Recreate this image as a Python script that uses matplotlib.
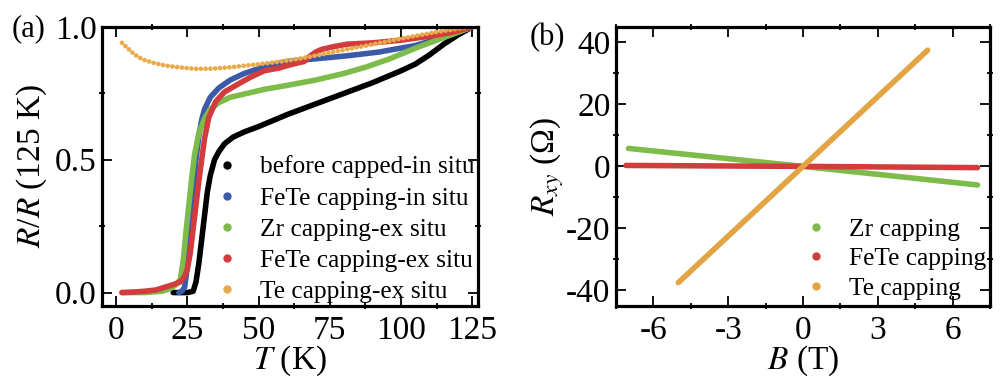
import numpy as np
import matplotlib
matplotlib.use("Agg")
import matplotlib.pyplot as plt
from matplotlib.ticker import MultipleLocator, FormatStrFormatter

plt.rcParams['font.family'] = ['Liberation Serif', 'DejaVu Serif']
plt.rcParams['mathtext.fontset'] = 'stix'
plt.rcParams['axes.unicode_minus'] = False

# ---- panel (a): R/R(125 K) vs T ----
T_black = [20, 25, 27, 28, 29, 30, 31, 32, 33, 34.5, 36, 38, 41, 45, 50, 60, 70, 80, 90, 100, 105, 110, 115,
           120, 125]
R_black = [0, 0, 0.005, 0.04, 0.11, 0.2, 0.29, 0.38, 0.44, 0.5, 0.53, 0.56, 0.585, 0.605, 0.625, 0.67, 0.71,
           0.75, 0.79, 0.835, 0.86, 0.895, 0.935, 0.97, 1.0]

T_blue = [22, 23, 24, 25, 26, 27, 28, 29, 30, 31, 33, 36, 40, 45, 52, 60, 70, 80, 92, 105, 116, 125]
R_blue = [0, 0.005, 0.02, 0.1, 0.24, 0.38, 0.5, 0.59, 0.65, 0.69, 0.735, 0.77, 0.8, 0.825, 0.85, 0.87, 0.88,
          0.89, 0.905, 0.93, 0.965, 1.0]

T_green = [2, 10, 16, 19, 21, 22.5, 23.5, 24.5, 25.5, 26.5, 27.5, 29, 31, 33, 36, 40, 46, 52, 60, 70, 80, 88,
           96, 105, 115, 125]
R_green = [0, 0, 0.005, 0.015, 0.03, 0.05, 0.12, 0.23, 0.33, 0.43, 0.52, 0.6, 0.655, 0.69, 0.715, 0.735, 0.75,
           0.765, 0.78, 0.8, 0.825, 0.85, 0.88, 0.92, 0.96, 1.0]

T_red = [2, 6, 10, 14, 17, 20, 22.5, 24, 25, 26, 27, 28, 29, 30, 31, 32.5, 35, 38, 42, 47, 52, 57, 62, 66, 68,
         70, 72, 76, 81, 90, 100, 110, 118, 125]
R_red = [0, 0.002, 0.005, 0.01, 0.02, 0.03, 0.04, 0.06, 0.09, 0.15, 0.24, 0.33, 0.42, 0.5, 0.58, 0.66, 0.72,
         0.755, 0.78, 0.81, 0.835, 0.845, 0.86, 0.87, 0.89, 0.905, 0.915, 0.925, 0.935, 0.94, 0.95, 0.965,
         0.98, 1.0]

T_orange = [2, 4, 6, 8, 10, 13, 17, 22, 28, 34, 40, 46, 52, 58, 64, 70, 76, 82, 88, 94, 100, 106, 112, 118,
            124, 126]
R_orange = [0.94, 0.92, 0.9, 0.885, 0.875, 0.865, 0.855, 0.848, 0.842, 0.843, 0.848, 0.855, 0.862, 0.87, 0.88,
            0.892, 0.905, 0.918, 0.93, 0.943, 0.956, 0.968, 0.98, 0.99, 1.0, 1.0]

labels_a = ["before capped-in situ", "FeTe capping-in situ", "Zr capping-ex situ",
            "FeTe capping-ex situ", "Te capping-ex situ"]

# ---- panel (b): Rxy vs B ----
B_zr = [-7, 0, 7]
Rxy_zr = [5.8, 0, -6.0]
B_fete = [-7.1, 0, 7]
Rxy_fete = [0.3, 0, -0.4]
B_te = [-5, 0, 5]
Rxy_te = [-37.5, 0, 37.5]
labels_b = ["Zr capping", "FeTe capping", "Te capping"]

c_black = "#000000"
c_blue = "#3b5ba9"
c_green = "#7dbb4a"
c_red = "#d23c3c"
c_orange = "#e9aa4c"
c_orange_b = "#e3a444"

FS = 24


def style_axes(ax):
    for s in ax.spines.values():
        s.set_linewidth(2.3)
    ax.tick_params(which='both', top=True, right=True, labelsize=FS, width=1.3)
    ax.tick_params(which='major', direction='in', length=7)
    ax.tick_params(which='minor', direction='inout', length=5)
    ax.tick_params(axis='x', which='major', pad=7)
    ax.tick_params(axis='y', which='major', pad=4)


fig = plt.figure(figsize=(10, 3.79), dpi=100)
ax1 = fig.add_axes([0.102, 0.193, 0.376, 0.736])
ax2 = fig.add_axes([0.616, 0.193, 0.374, 0.736])

lw = 4.0
ax1.plot(T_black, R_black, color=c_black, lw=lw, solid_capstyle='round')
ax1.plot(T_blue, R_blue, color=c_blue, lw=lw, solid_capstyle='round')
ax1.plot(T_green, R_green, color=c_green, lw=lw, solid_capstyle='round')
ax1.plot(T_red, R_red, color=c_red, lw=lw, solid_capstyle='round')
ax1.plot(T_orange, R_orange, color=c_orange, lw=3.4, linestyle=(0, (0.01, 1.0)), dash_capstyle='round')

for c, lab in zip([c_black, c_blue, c_green, c_red, c_orange], labels_a):
    ax1.plot([], [], 'o', color=c, ms=5, label=lab)

ax1.set_xlim(-5, 127)
ax1.set_ylim(-0.05, 1.0)
ax1.xaxis.set_major_locator(MultipleLocator(25))
ax1.xaxis.set_minor_locator(MultipleLocator(12.5))
ax1.yaxis.set_major_locator(MultipleLocator(0.5))
ax1.yaxis.set_minor_locator(MultipleLocator(0.25))
ax1.yaxis.set_major_formatter(FormatStrFormatter('%.1f'))
style_axes(ax1)
ax1.set_xlabel("$T$ (K)", fontsize=FS, labelpad=-2)
ax1.set_ylabel("$R$/$R$ (125 K)", fontsize=FS, labelpad=4)
ax1.legend(loc='lower right', bbox_to_anchor=(1.032, -0.045), frameon=False, fontsize=18.3,
           handletextpad=0.7, labelspacing=0.33, borderaxespad=0.2, handlelength=1.2)
fig.text(0.012, 0.905, "(a)", fontsize=22)

lw_b = 4.0
ax2.plot(B_zr, Rxy_zr, color=c_green, lw=lw_b, solid_capstyle='round')
ax2.plot(B_fete, Rxy_fete, color=c_red, lw=lw_b, solid_capstyle='round')
ax2.plot(B_te, Rxy_te, color=c_orange_b, lw=lw_b, solid_capstyle='round')
for c, lab in zip([c_green, c_red, c_orange_b], labels_b):
    ax2.plot([], [], 'o', color=c, ms=5, label=lab)

ax2.set_xlim(-7.5, 7.5)
ax2.set_ylim(-45, 45)
ax2.xaxis.set_major_locator(MultipleLocator(3))
ax2.xaxis.set_minor_locator(MultipleLocator(1.5))
ax2.yaxis.set_major_locator(MultipleLocator(20))
ax2.yaxis.set_minor_locator(MultipleLocator(10))
style_axes(ax2)
ax2.set_xlabel("$B$ (T)", fontsize=FS, labelpad=-2)
ax2.set_ylabel("$R_{xy}$ (Ω)", fontsize=FS, labelpad=0)
ax2.legend(loc='lower right', bbox_to_anchor=(1.03, -0.032), frameon=False, fontsize=18.3,
           handletextpad=0.7, labelspacing=0.25, borderaxespad=0.2, handlelength=1.2)
fig.text(0.530, 0.88, "(b)", fontsize=22)

fig.savefig("out.png", dpi=100)
